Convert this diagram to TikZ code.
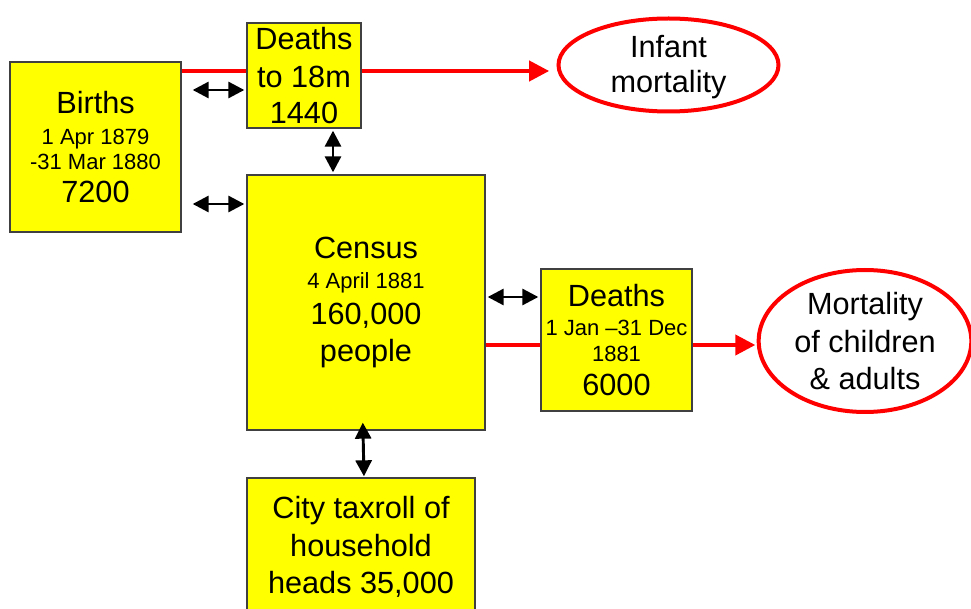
\documentclass[tikz,border=0pt]{standalone}
\usepackage{fontspec}
\setmainfont{Liberation Sans}
\usetikzlibrary{arrows.meta,shapes.geometric}
\definecolor{boxyellow}{RGB}{255,255,0}
\newcommand{\bigt}[1]{{\fontsize{23}{0}\selectfont #1}}
\begin{document}
\begin{tikzpicture}[x=0.75pt,y=-0.75pt,
  txt/.style={font={\fontsize{16.5}{0}\selectfont\lineskiplimit=-100pt\lineskip=0pt}, align=center},
  box/.style={txt, draw=black!75, line width=1pt, fill=boxyellow, rectangle, inner sep=0pt},
  oval/.style={draw=red, line width=3pt, ellipse, inner sep=0pt, fill=white},
  redline/.style={draw=red, line width=3pt},
  redarrow/.style={redline, -{Triangle[length=15pt,width=15pt]}},
  dbl/.style={draw=black, line width=2.2pt, {Triangle[length=12pt,width=12pt]}-{Triangle[length=12pt,width=12pt]}, shorten <=1.5pt, shorten >=1.5pt}
]
\fill[white] (0,0) rectangle (971,609);
\useasboundingbox (0,0) rectangle (971,609);

\node[box, minimum width=128.25pt, minimum height=127.5pt] (births) at (95.5,147)
 {\bigt{Births}\\[23.25pt]1 Apr 1879\\[18.75pt]-31 Mar 1880\\[24.75pt]\bigt{7200}};
\node[box, minimum width=85.5pt, minimum height=78.75pt] (d18) at (304,75.5)
 {\bigt{Deaths}\\[28pt]\bigt{to 18m}\\[27pt]\bigt{1440}};
\node[box, minimum width=178.5pt, minimum height=191.25pt] (census) at (366,302.5)
 {\bigt{Census}\\[22.5pt]4 April 1881\\[27pt]\bigt{160,000}\\[27.75pt]\bigt{people}};
\node[box, minimum width=113.25pt, minimum height=106.5pt] (deaths) at (616.5,340)
 {\bigt{Deaths}\\[21.75pt]1 Jan –31 Dec\\[19.5pt]1881\\[25.5pt]\bigt{6000}};
\node[box, minimum width=171pt, minimum height=102.75pt] (tax) at (361,546.5)
 {\bigt{City taxroll of}\\[28.5pt]\bigt{household}\\[27.75pt]\bigt{heads 35,000}};

\node[oval, minimum width=165pt, minimum height=69.75pt] (infant) at (668.5,65) {};
\node[txt] (inftxt) at ([yshift=-1.5pt]infant.center) {\bigt{Infant}\\[26.25pt]\bigt{mortality}};
\node[oval, minimum width=159.5pt, minimum height=106.5pt] (mort) at (865,341) {};
\node[txt] (morttxt) at (mort.center) {\bigt{Mortality}\\[28.5pt]\bigt{of children}\\[27.75pt]\bigt{\& adults}};

\draw[redline] (births.east |- 0,71) -- (d18.west |- 0,71);
\draw[redarrow, shorten >=5.5pt] (d18.east |- 0,71) -- (infant.west |- 0,71);
\draw[redline] (census.east |- 0,345) -- (deaths.west |- 0,345);
\draw[redarrow, shorten >=1pt] (deaths.east |- 0,345) -- (mort.west |- 0,345);

\draw[dbl, shorten <=8.25pt] (births.east |- 0,90) -- (d18.west |- 0,90);
\draw[dbl, shorten <=8.25pt] (births.east |- 0,204) -- (census.west |- 0,204);
\draw[dbl] (d18.south -| 333,0) -- (census.north -| 333,0);
\draw[dbl] (census.east |- 0,297) -- (deaths.west |- 0,297);
\draw[dbl, shorten <=-6pt, shorten >=0.75pt] (census.south -| 363,0) -- (tax.north -| 364,0);
\end{tikzpicture}
\end{document}
